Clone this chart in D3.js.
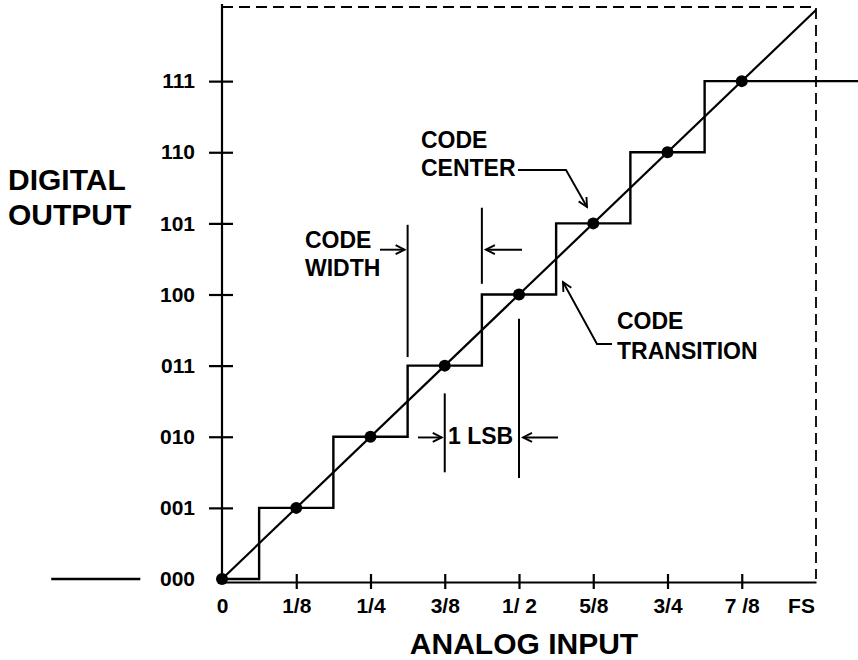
<!DOCTYPE html>
<html><head><meta charset="utf-8">
<script src="https://cdn.jsdelivr.net/npm/d3@7"></script>
<style>
html,body{margin:0;padding:0;background:#fff;}
svg{display:block;font-family:"Liberation Sans",Arial,Helvetica,sans-serif;font-weight:bold;}
</style></head>
<body>
<svg id="chart" width="858" height="660"></svg>
<script>
// ---- data (in LSB units: x = analog input * 8, y = output code) ----
const yTickLabels = ["000","001","010","011","100","101","110","111"];
const yTickValues = [0,1,2,3,4,5,6,7];
const xTickLabels = ["0","1/8","1/4","3/8","1/ 2","5/8","3/4","7 /8","FS"];
const xTickValues = [0,1,2,3,4,5,6,7,8];
const codeCenters = [0,1,2,3,4,5,6,7];          // dots on the ideal line
const codeTransitions = [0.5,1.5,2.5,3.5,4.5,5.5,6.5];
const stepStart = 0, stepEnd = 8.57;            // staircase extent
const leftStub = [-2.3,-1.1];                    // short line left of "000"
const codeWidthLines = [[2.5,3.12,4.98],[3.5,4.15,5.22]];
const lsbLines = [[3,1.5,2.61],[4,1.42,3.66]];

const svg = d3.select("#chart");
const x = d3.scaleLinear().domain([0,8]).range([222,816]);
const y = d3.scaleLinear().domain([0,8]).range([579,10]);

// markers
const defs = svg.append("defs");
defs.append("marker").attr("id","arr").attr("viewBox","-10 -6 12 12")
  .attr("refX",0).attr("refY",0).attr("markerWidth",12).attr("markerHeight",12)
  .attr("markerUnits","userSpaceOnUse").attr("orient","auto")
  .append("path").attr("d","M-9,-4.5 L0,0 L-9,4.5").attr("fill","none")
  .attr("stroke","#000").attr("stroke-width",1.9);

// dashed full-scale box
svg.append("path")
  .attr("d",`M${x(0)},${y(8)-3} L${x(8)},${y(8)-3} L${x(8)},${y(0)}`)
  .attr("fill","none").attr("stroke","#000").attr("stroke-width",1.8)
  .attr("stroke-dasharray","11,6");

// y axis
const yAxis = svg.append("g").attr("transform",`translate(${x(0)},0)`)
  .call(d3.axisLeft(y).tickValues(yTickValues).tickFormat((d,i)=>yTickLabels[i]).tickSize(0).tickPadding(27));
yAxis.select(".domain").remove();
yAxis.selectAll("text").attr("font-size",21).attr("font-weight","bold").attr("fill","#000")
  .attr("font-family","Liberation Sans, Arial, sans-serif");
yAxis.selectAll(".tick").filter(d=>d>0).append("line")
  .attr("x1",-13).attr("x2",11).attr("stroke","#000").attr("stroke-width",2.2);
svg.append("line").attr("x1",x(0)).attr("x2",x(0)).attr("y1",y(8)-6).attr("y2",y(0)+4)
  .attr("stroke","#000").attr("stroke-width",2.2);

// x axis
const xAxis = svg.append("g").attr("transform",`translate(0,${y(0)+3})`)
  .call(d3.axisBottom(x).tickValues(xTickValues).tickFormat((d,i)=>xTickLabels[i]).tickSize(0).tickPadding(16));
xAxis.select(".domain").attr("stroke-width",2.2).attr("stroke","#000");
xAxis.selectAll("text").attr("font-size",21).attr("font-weight","bold").attr("fill","#000")
  .attr("font-family","Liberation Sans, Arial, sans-serif");
xAxis.selectAll(".tick").filter(d=>d===8).select("text").attr("dx",-15);
xAxis.selectAll(".tick").filter(d=>d>0&&d<8).append("line")
  .attr("y1",-8).attr("y2",7).attr("stroke","#000").attr("stroke-width",2.2);

// ideal transfer line
svg.append("line").attr("x1",x(0)).attr("y1",y(0)).attr("x2",x(8)).attr("y2",y(8))
  .attr("stroke","#000").attr("stroke-width",2.2);

// staircase
const pts = [[stepStart,0]];
codeTransitions.forEach((t,i)=>{ pts.push([t,i]); pts.push([t,i+1]); });
pts.push([stepEnd,7]);
svg.append("path").datum(pts)
  .attr("d",d3.line().x(d=>x(d[0])).y(d=>y(d[1])).curve(d3.curveLinear))
  .attr("fill","none").attr("stroke","#000").attr("stroke-width",2.4);

// left stub
svg.append("line").attr("x1",x(leftStub[0])).attr("x2",x(leftStub[1]))
  .attr("y1",y(0)).attr("y2",y(0)).attr("stroke","#000").attr("stroke-width",2.4);

// code-center dots
svg.selectAll("circle.c").data(codeCenters).join("circle").attr("class","c")
  .attr("cx",d=>x(d)).attr("cy",d=>y(d)).attr("r",6).attr("fill","#000");

// annotation vertical lines
[...codeWidthLines,...lsbLines].forEach(l=>{
  svg.append("line").attr("x1",x(l[0])).attr("x2",x(l[0])).attr("y1",y(l[1])).attr("y2",y(l[2]))
    .attr("stroke","#000").attr("stroke-width",2);
});
// arrows
function arrow(x1,y1,x2,y2){
  svg.append("line").attr("x1",x1).attr("y1",y1).attr("x2",x2).attr("y2",y2)
    .attr("stroke","#000").attr("stroke-width",1.9).attr("marker-end","url(#arr)");
}
arrow(380,y(4.63),x(2.5)-3,y(4.63));
arrow(522,y(4.63),x(3.5)+4,y(4.63));
arrow(418,y(1.99),x(3)-3,y(1.99));
arrow(558,y(1.99),x(4)+4,y(1.99));

// leader lines
svg.append("path").attr("d","M518,170 L566,170 L587,207").attr("fill","none")
  .attr("stroke","#000").attr("stroke-width",1.9).attr("marker-end","url(#arr)");
svg.append("path").attr("d","M612,344 L597,344 L563,282").attr("fill","none")
  .attr("stroke","#000").attr("stroke-width",1.9).attr("marker-end","url(#arr)");

// labels
function label(txt,px,py,size){
  svg.append("text").attr("x",px).attr("y",py).attr("font-size",size).attr("font-weight","bold")
    .attr("fill","#000").text(txt);
}
label("DIGITAL",8,190,30);
label("OUTPUT",8,225,30);
label("CODE",421,148,23);
label("CENTER",421,176,23);
label("CODE",305,248,23);
label("WIDTH",305,276,23);
label("1 LSB",448,444,23);
label("CODE",617,329,23);
label("TRANSITION",617,359,23);
svg.append("text").attr("x",(x(0)+x(8))/2+5).attr("y",654).attr("text-anchor","middle")
  .attr("font-size",30).attr("font-weight","bold").text("ANALOG INPUT");
</script>
</body></html>
